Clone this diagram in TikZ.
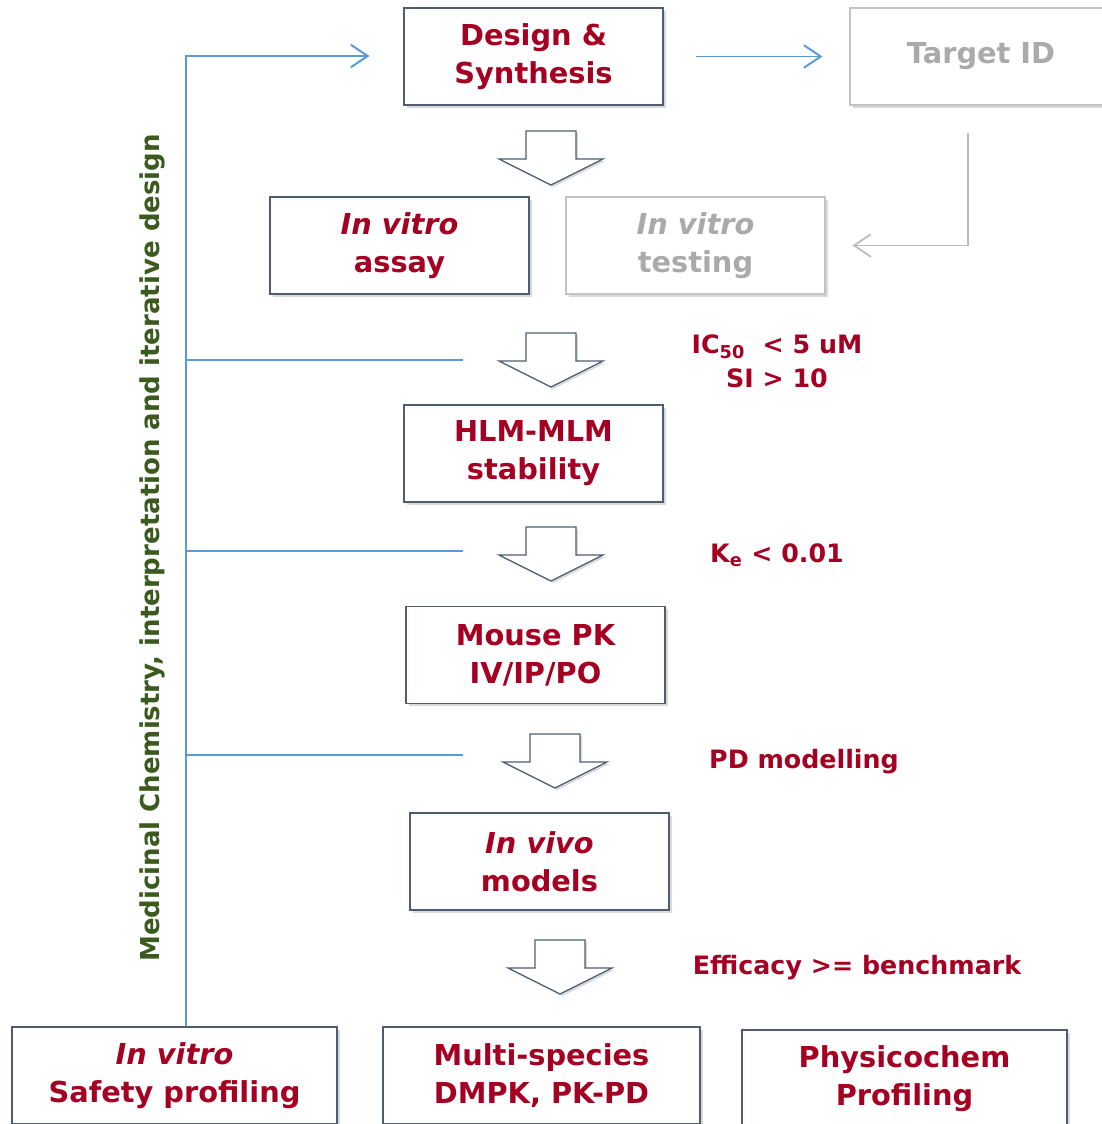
\documentclass[tikz,border=0pt]{standalone}
\usepackage{fontspec}
\setmainfont{DejaVu Sans}
\usetikzlibrary{arrows.meta, shadows}

\definecolor{stagered}{HTML}{A50021}
\definecolor{chemgreen}{HTML}{3B5A1E}
\definecolor{edgeslate}{HTML}{4E5D72}
\definecolor{loopblue}{HTML}{5B9BD5}
\definecolor{fadegray}{HTML}{AAAAAA}

\tikzset{
  stage/.style={draw=edgeslate, line width=1pt, fill=white, text=stagered,
    font=\bfseries\fontsize{20.5}{27}\selectfont, align=center,
    minimum width=6.475cm, minimum height=2.425cm, inner sep=0pt,
    drop shadow={shadow xshift=2pt, shadow yshift=-2pt, opacity=0.3}},
  faded/.style={stage, draw=fadegray!70, text=fadegray},
  gate/.style={text=stagered, font=\bfseries\fontsize{18}{24}\selectfont, align=center},
  blockarrow/.style={draw=edgeslate, line width=0.9pt, fill=white, line join=miter,
    drop shadow={shadow xshift=1.5pt, shadow yshift=-1.5pt, opacity=0.3}},
}

\begin{document}
\begin{tikzpicture}[x=0.025cm, y=-0.025cm]
  \useasboundingbox (0,0) rectangle (1102,1124);

  % stages of the cascade
  \node[stage] (design) at (533.5,56.5) {Design \&\\Synthesis};
  \node[faded, minimum width=6.55cm] (target) at (981,56.5) {Target ID};
  \node[stage] (assay) at (399.5,245.5) {\textit{In vitro}\\assay};
  \node[faded] (testing) at (695.5,245.5) {\textit{In vitro}\\testing};
  \node[stage] (hlm) at (533.5,453.5) {HLM-MLM\\stability};
  \node[stage] (mouse) at (535.5,655) {Mouse PK\\IV/IP/PO};
  \node[stage] (invivo) at (539.5,861.5) {\textit{In vivo}\\models};
  \node[stage, minimum width=8.125cm] (safety) at (174.5,1075.5) {\textit{In vitro}\\Safety profiling};
  \node[stage, minimum width=7.925cm] (dmpk) at (541.5,1075.5) {Multi-species\\DMPK, PK-PD};
  \node[stage, minimum width=8.125cm] (physchem) at (904.5,1078.5) {Physicochem\\Profiling};

  % block arrows between stages
  \foreach \cx/\ty in {551/131, 551/333, 551/527, 555/734, 560/940} {
    \draw[blockarrow] (\cx-25,\ty) -- (\cx+25,\ty) -- (\cx+25,\ty+28) -- (\cx+52,\ty+28)
      -- (\cx,\ty+54) -- (\cx-52,\ty+28) -- (\cx-25,\ty+28) -- cycle;
  }

  % go / no-go criteria
  \node[gate] (ic) at (777,361) {IC\textsubscript{50}\ \ < 5 uM\\SI > 10};
  \node[gate] (ke) at (777,555) {K\textsubscript{e} < 0.01};
  \node[gate] (pd) at (804,762) {PD modelling};
  \node[gate] (eff) at (857,968) {Efficacy >= benchmark};

  % iterative design loop
  \coordinate (loop) at (186,56);
  \draw[loopblue, line width=1.4pt, -{Straight Barb[length=12pt, width=16pt]}, shorten >=24pt]
    (safety.north -| loop) -- (loop) -- (loop -| design.west);
  \foreach \y in {360,551,755} \draw[loopblue, line width=0.8pt] (186,\y) -- (463,\y);
  \draw[loopblue, line width=1.4pt, -{Straight Barb[length=12pt, width=16pt]},
    shorten <=22.7pt, shorten >=19pt] (design.east) -- (target.west);
  \node[rotate=90, text=chemgreen, font=\bfseries\fontsize{18.5}{22}\selectfont] (chem) at (152,548)
    {Medicinal Chemistry, interpretation and iterative design};

  % target feeds the in vitro testing
  \coordinate (drop) at (968,133);
  \draw[fadegray!80, line width=1.2pt, -{Straight Barb[length=12pt, width=16pt]}, shorten >=19pt]
    (drop) -- (drop |- testing.east) -- (testing.east);
\end{tikzpicture}
\end{document}
